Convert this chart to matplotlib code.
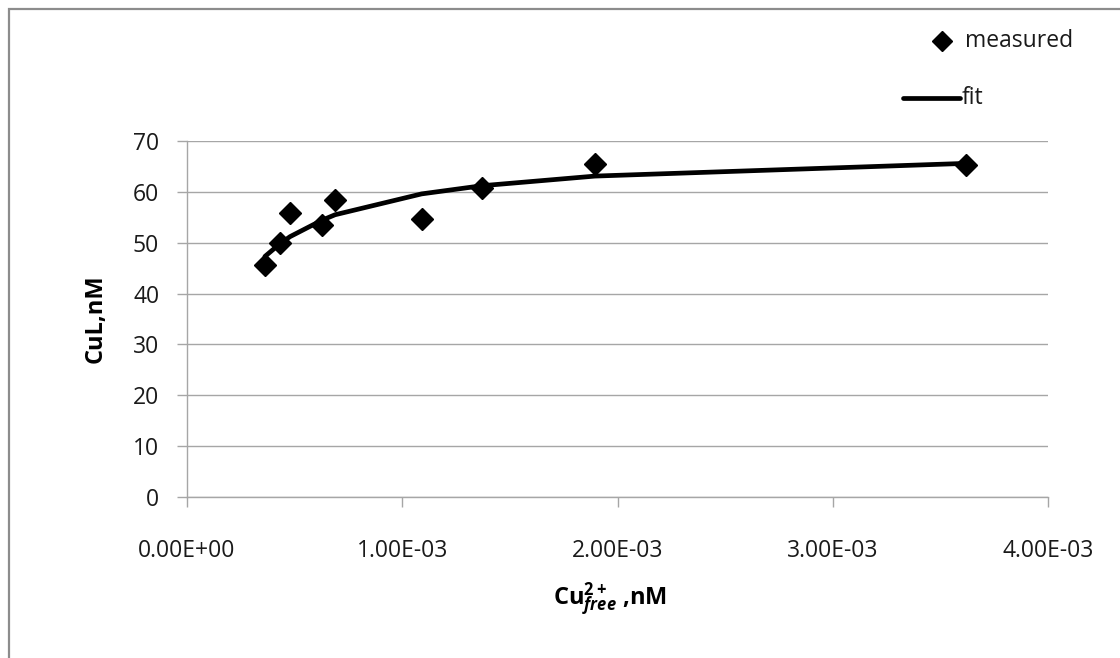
import matplotlib
matplotlib.use("Agg")
import matplotlib.pyplot as plt
from matplotlib.lines import Line2D
from matplotlib.patches import Rectangle

plt.rcParams['font.family'] = ['Open Sans', 'DejaVu Sans']
plt.rcParams['mathtext.fontset'] = 'custom'
plt.rcParams['mathtext.rm'] = 'Open Sans'
plt.rcParams['mathtext.bf'] = 'Open Sans:bold'
plt.rcParams['mathtext.it'] = 'Open Sans:italic'
plt.rcParams['mathtext.bfit'] = 'Open Sans:bold:italic'

# Free copper (nM) and complexed copper (nM)
cu_free = [0.362e-3, 0.432e-3, 0.479e-3, 0.626e-3, 0.688e-3,
           1.090e-3, 1.369e-3, 1.895e-3, 3.618e-3]
cul_measured = [45.6, 49.9, 55.9, 53.5, 58.4, 54.7, 60.7, 65.4, 65.3]
cul_fit = [47.3, 49.8, 51.2, 54.4, 55.5, 59.6, 61.2, 63.1, 65.6]

x_ticks = [0.0, 1e-3, 2e-3, 3e-3, 4e-3]
x_tick_labels = ['0.00E+00', '1.00E-03', '2.00E-03', '3.00E-03', '4.00E-03']
y_ticks = [0, 10, 20, 30, 40, 50, 60, 70]

W, H = 1120, 658
fig = plt.figure(figsize=(W / 100, H / 100), dpi=100)
ax = fig.add_axes([187 / W, 1 - 497 / H, (1048 - 187) / W, (497 - 141) / H])

grid_c = '#a6a6a6'
ax.set_xlim(0, 4e-3)
ax.set_ylim(0, 70)
ax.set_xticks(x_ticks)
ax.set_xticklabels(x_tick_labels)
ax.set_yticks(y_ticks)
ax.yaxis.grid(True, color=grid_c, lw=1.0)
ax.set_axisbelow(True)
for s in ['top', 'right']:
    ax.spines[s].set_visible(False)
for s in ['left', 'bottom']:
    ax.spines[s].set_color(grid_c)
    ax.spines[s].set_linewidth(1.0)
ax.tick_params(axis='both', direction='out', length=7, width=1.0,
               color=grid_c, labelsize=16.5, labelcolor='#1a1a1a')
ax.tick_params(axis='x', pad=23)
ax.tick_params(axis='y', pad=13)

ax.plot(cu_free, cul_fit, color='black', lw=3.4, solid_joinstyle='round',
        solid_capstyle='round', zorder=3)
ax.plot(cu_free, cul_measured, linestyle='none', marker='D', markersize=11,
        color='black', zorder=4)

ax.set_ylabel('CuL,nM', fontsize=17, fontweight='bold', labelpad=18)
fig.text(610 / W, 1 - 599 / H,
         r'$\mathbf{Cu}_{\mathbfit{free}}^{\mathbf{2+}}$ ,nM',
         fontsize=17, fontweight='bold', ha='center', va='center')

# Legend entries
fig.add_artist(Line2D([942 / W], [1 - 41 / H], transform=fig.transFigure,
                      marker='D', markersize=10, color='black', linestyle='none'))
fig.text(965 / W, 1 - 41 / H, 'measured', fontsize=16.5, va='center',
         ha='left', color='#1a1a1a')
fig.add_artist(Line2D([903 / W, 960 / W], [1 - 98 / H, 1 - 98 / H],
                      transform=fig.transFigure, color='black', lw=3.4,
                      solid_capstyle='round'))
fig.text(962 / W, 1 - 98 / H, 'fit', fontsize=16.5, va='center',
         ha='left', color='#1a1a1a')

# Chart frame
fig.add_artist(Rectangle((8.5 / W, -0.5), 2.0, 1.5 - 9 / H,
                         transform=fig.transFigure, fill=False,
                         edgecolor='#8c8c8c', lw=1.6))

fig.savefig('out.png', dpi=100)
